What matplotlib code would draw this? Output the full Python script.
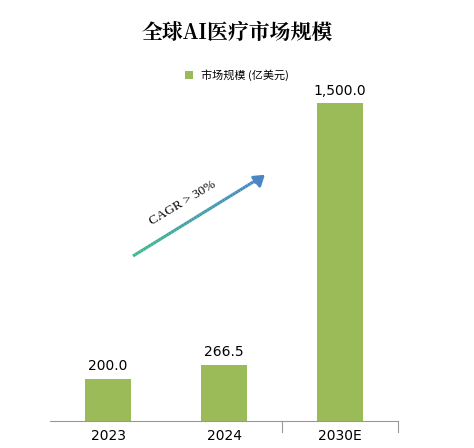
import matplotlib
matplotlib.use("Agg")
import matplotlib.pyplot as plt
import numpy as np
from matplotlib.collections import LineCollection

categories = ["2023", "2024", "2030E"]
values = [200.0, 266.5, 1500.0]
labels = ["200.0", "266.5", "1,500.0"]

plt.rcParams['font.family'] = ['Noto Sans CJK SC', 'DejaVu Sans']
fig = plt.figure(figsize=(4.74, 4.48), dpi=100)
ax = fig.add_axes([50/474, 27/448, 348/474, 351/448])
x = np.arange(len(categories))
ax.bar(x, values, width=0.4, color="#9BBB59", label="市场规模 (亿美元)")
for xi, v, l in zip(x, values, labels):
    ax.text(xi, v + 25, l, ha="center", va="bottom", fontsize=10, family="DejaVu Sans")
ax.set_xlim(-0.5, 2.5)
ax.set_ylim(0, 1656)
ax.set_yticks([])
ax.set_xticks(x)
ax.set_xticklabels(categories, fontsize=10, family="DejaVu Sans")
ax.tick_params(axis="x", length=0, pad=6)
for s in ["top", "right", "left"]:
    ax.spines[s].set_visible(False)
ax.spines["bottom"].set_color("#999999")
for b in [1.5, 2.5]:
    ax.plot([b, b], [0, -0.03], transform=ax.get_xaxis_transform(), color="#999999", lw=0.8, clip_on=False)

fig.text(0.5, 1 - 33/448, "全球AI医疗市场规模", ha="center", va="center", fontsize=15, fontweight="bold", family=["Noto Serif CJK SC", "Noto Sans CJK SC"])
leg = fig.legend(loc="center", bbox_to_anchor=(0.5, 1 - 75/448), frameon=False, fontsize=8, handlelength=0.7, handleheight=0.7)

# gradient arrow in pixel-based figure coords
x0, y0, x1, y1 = 133/474, 1 - 256/448, 258/474, 1 - 179/448
n = 50
xs = np.linspace(x0, x1, n); ys = np.linspace(y0, y1, n)
segs = [[(xs[i], ys[i]), (xs[i+1], ys[i+1])] for i in range(n-1)]
c0 = np.array([0x3C, 0xB8, 0x8A])/255; c1 = np.array([0x4A, 0x86, 0xC5])/255
cols = [c0 + (c1-c0)*t for t in np.linspace(0, 1, n-1)]
lc = LineCollection(segs, colors=cols, linewidths=2.2, transform=fig.transFigure)
fig.add_artist(lc)
fig.add_artist(matplotlib.patches.FancyArrowPatch((x1-0.01, y1-0.01*448/474*1.2), (267/474, 1-173/448),
    transform=fig.transFigure, arrowstyle="-|>,head_length=6,head_width=4", color="#4A86C5", lw=2.2))
fig.text(183/474, 1 - 203/448, "CAGR > 30%", rotation=31, ha="center", va="center", fontsize=9.5, family="Liberation Serif")

fig.savefig("out.png", dpi=100)
